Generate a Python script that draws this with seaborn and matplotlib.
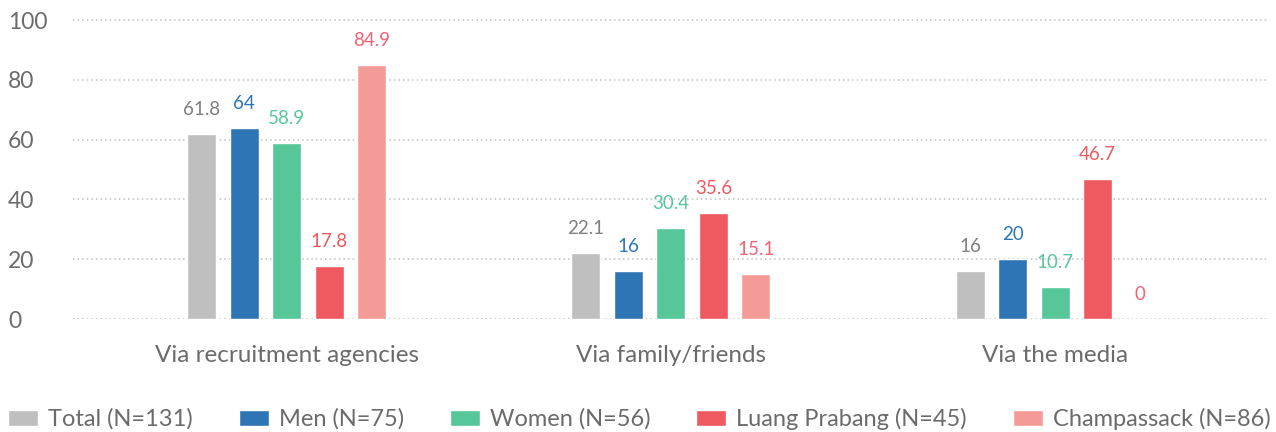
import numpy as np
import pandas as pd
import seaborn as sns
import matplotlib.pyplot as plt

# chart data
categories = ['Via recruitment agencies', 'Via family/friends', 'Via the media']
groups = ['Total (N=131)', 'Men (N=75)', 'Women (N=56)', 'Luang Prabang (N=45)', 'Champassack (N=86)']
total = [61.8, 22.1, 16]
men = [64, 16, 20]
women = [58.9, 30.4, 10.7]
luang_prabang = [17.8, 35.6, 46.7]
champassack = [84.9, 15.1, 0]
y_ticks = [0, 20, 40, 60, 80, 100]

bar_colors = ['#BFBFBF', '#2E75B6', '#57C79A', '#EE5A60', '#F59B97']
label_colors = ['#7F7F7F', '#2E75B6', '#57C79A', '#EE5A60', '#F06373']
text_gray = '#6B6B6B'


def build_frame():
    series = [total, men, women, luang_prabang, champassack]
    rows = []
    for name, vals in zip(groups, series):
        for cat, v in zip(categories, vals):
            rows.append({'category': cat, 'group': name, 'value': v})
    return pd.DataFrame(rows)


def plot_chart(df, output_path='out.png'):
    sns.set_style('white')
    plt.rcParams['font.family'] = ['Lato', 'DejaVu Sans']

    fig = plt.figure(figsize=(12.76, 4.32), dpi=100)
    ax = fig.add_axes([73 / 1276, 113 / 432, (1268 - 73) / 1276, 300 / 432])

    sns.barplot(data=df, x='category', y='value', hue='group',
                order=categories, hue_order=groups, palette=bar_colors,
                width=0.553, gap=0.32, errorbar=None, saturation=1, ax=ax)

    # value labels above each bar, coloured like the series
    for cont, col in zip(ax.containers, label_colors):
        ax.bar_label(cont, fmt='%g', padding=11.5, color=col, fontsize=13.5)

    ax.set_xlim(-0.556, 2.554)
    ax.set_ylim(0, 100.4)
    ax.set_yticks(y_ticks)
    ax.set_xlabel('')
    ax.set_ylabel('')
    ax.grid(axis='y', linestyle=(0, (1, 2)), color='#BFBFBF', linewidth=1.1)
    ax.set_axisbelow(True)
    sns.despine(ax=ax, left=True, bottom=True)

    ax.tick_params(axis='y', length=0, pad=46.8, labelsize=16.5, labelcolor=text_gray)
    ax.tick_params(axis='x', length=0, pad=19, labelsize=17.5, labelcolor=text_gray)
    for lbl in ax.get_yticklabels():
        lbl.set_horizontalalignment('left')

    sns.move_legend(ax, 'center left', bbox_to_anchor=(8 / 1276, 1 - 419 / 432),
                    bbox_transform=fig.transFigure, ncol=5, frameon=False, title=None,
                    fontsize=17, labelcolor=text_gray, borderaxespad=0, borderpad=0,
                    handlelength=1.27, handleheight=0.64, handletextpad=0.42,
                    columnspacing=1.95)

    plt.savefig(output_path, dpi=100)


def main():
    df = build_frame()
    plot_chart(df)


if __name__ == '__main__':
    main()
